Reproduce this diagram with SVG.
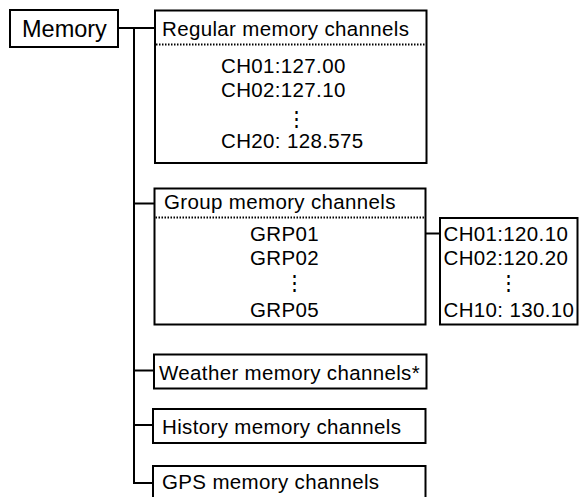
<svg xmlns="http://www.w3.org/2000/svg" width="581" height="497" viewBox="0 0 581 497">
<style>
rect{fill:#fff;stroke:#000;stroke-width:2}
.c line,.c polyline{stroke:#000;stroke-width:2;fill:none}
.dot{stroke:#000;stroke-width:2;stroke-dasharray:1.5 1.5}
text{font-family:"Liberation Sans",Arial,sans-serif;font-size:20.5px;letter-spacing:0.35px;fill:#000}
.m{font-size:23.5px;letter-spacing:0}
.v{letter-spacing:0}
</style>
<g class="c" id="connectors">
<polyline points="118,28 155,28"/>
<polyline points="134,28 134,483 153,483"/>
<line x1="134" y1="203.5" x2="155" y2="203.5"/>
<line x1="134" y1="370.5" x2="154" y2="370.5"/>
<line x1="134" y1="425" x2="153" y2="425"/>
<line x1="426" y1="233.5" x2="440" y2="233.5"/>
</g>
<g id="memory"><rect x="10" y="10" width="108" height="37"/><text class="m" x="22" y="37">Memory</text></g>
<g id="regular">
<rect x="155" y="10.5" width="271.5" height="152.5"/>
<line class="dot" x1="156" y1="44.5" x2="425" y2="44.5"/>
<text x="162" y="36">Regular memory channels</text>
<text x="221" y="72.5">CH01:127.00</text>
<text x="221" y="96.5">CH02:127.10</text>
<text class="v" x="286" y="126">⋮</text>
<text x="221" y="148">CH20: 128.575</text>
</g>
<g id="group">
<rect x="154.5" y="188.5" width="271" height="136"/>
<line class="dot" x1="155.5" y1="217.5" x2="425" y2="217.5"/>
<text x="164" y="209">Group memory channels</text>
<text x="250" y="241">GRP01</text>
<text x="250" y="265">GRP02</text>
<text class="v" x="284" y="290">⋮</text>
<text x="250" y="317">GRP05</text>
</g>
<g id="groupch">
<rect x="440" y="218" width="137.5" height="106.5"/>
<text x="443.5" y="241">CH01:120.10</text>
<text x="443.5" y="265">CH02:120.20</text>
<text class="v" x="498" y="290">⋮</text>
<text x="443.5" y="317">CH10: 130.10</text>
</g>
<g id="weather"><rect x="154" y="354.5" width="272.5" height="34"/><text x="159" y="379.5">Weather memory channels*</text></g>
<g id="history"><rect x="153" y="409" width="272.5" height="34"/><text x="162" y="433.5">History memory channels</text></g>
<g id="gps"><rect x="153" y="466" width="272.5" height="40"/><text x="162" y="488.5">GPS memory channels</text></g>
</svg>
